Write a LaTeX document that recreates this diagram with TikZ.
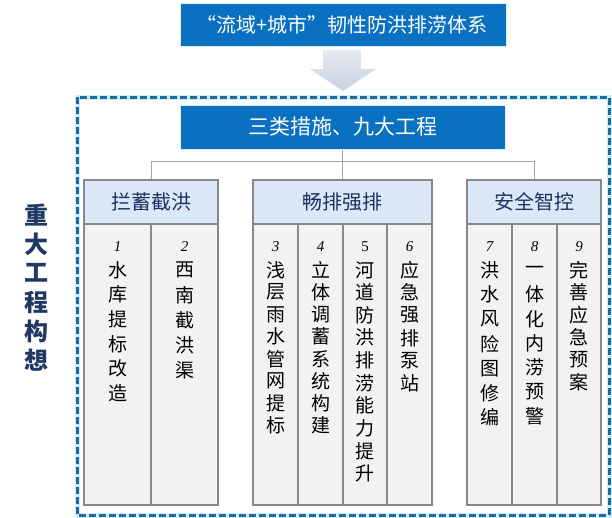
\documentclass[tikz,border=0pt]{standalone}
\usepackage{fontspec}
\setmainfont{Liberation Serif}
\newfontfamily\cjk{Noto Sans CJK SC}
\definecolor{topblue}{RGB}{10,112,192}
\definecolor{hdrblue}{RGB}{218,232,247}
\definecolor{colgray}{RGB}{242,242,242}
\definecolor{boxgray}{RGB}{136,136,136}
\definecolor{hdrtext}{RGB}{31,48,96}
\definecolor{sidenavy}{RGB}{32,56,100}
\definecolor{dashblue}{RGB}{31,106,158}
\definecolor{linkgray}{RGB}{166,166,166}
\definecolor{arrowtop}{RGB}{230,234,242}
\definecolor{arrowbot}{RGB}{200,209,225}
\tikzset{
  bluebox/.style={rectangle, fill=topblue, draw=cyan!15, line width=1pt, text=white,
    font=\cjk\fontsize{20}{24}\selectfont, inner sep=0pt},
  hdr/.style={rectangle, fill=hdrblue, draw=boxgray, line width=1.5pt, text=hdrtext,
    font=\cjk\fontsize{20}{24}\selectfont, minimum height=44, inner sep=0pt},
  colbox/.style={rectangle, fill=colgray, draw=boxgray, line width=1.5pt,
    minimum height=281, inner sep=0pt},
  ch/.style={font=\cjk\fontsize{19}{22}\selectfont, inner sep=0pt, text=black},
  num/.style={font=\fontsize{15}{18}\selectfont\itshape, inner sep=0pt, text=black},
  side/.style={font=\cjk\bfseries\fontsize{24}{28}\selectfont, inner sep=0pt, text=sidenavy},
  link/.style={draw=linkgray, line width=1pt},
  frame/.style={draw=dashblue, line width=3pt, dash pattern=on 7pt off 3pt},
}
\newcommand\colitems[5]{%
  \node[num] (#1n) at (#2,247) {#4};
  \foreach \c [count=\i] in {#5} {\node[ch] (#1-\i) at (#2,{270+(\i-1)*#3}) {\c};}
}
\begin{document}
\begin{tikzpicture}[x=1pt,y=-1pt]
\useasboundingbox (0,0) rectangle (612,517);
% top box
\node[bluebox, minimum width=326, minimum height=43] (top) at (343,24.5)
  {\makebox[18pt][r]{“}流域+城市\makebox[20pt][l]{”}韧性防洪排涝体系};
% arrow
\shade[top color=arrowtop, bottom color=arrowbot]
  (323,50) -- (361,50) -- (361,69) -- (376,69) -- (343,91) -- (310,69) -- (323,69) -- cycle;
% dashed frame
\draw[draw=cyan!20, line width=5pt] (77,97) rectangle (609,515);
\draw[frame] (77,97) rectangle (609,515);
% second box
\node[bluebox, minimum width=325, minimum height=44, font=\cjk\fontsize{21}{24}\selectfont] (mid) at (342.5,127) {三类措施、九大工程};
% headers
\node[hdr, minimum width=134] (h1) at (151,202) {拦蓄截洪};
\node[hdr, minimum width=179] (h2) at (342.5,202) {畅排强排};
\node[hdr, minimum width=134] (h3) at (534,202) {安全智控};
% connectors
\draw[link] (mid.south) -- (h2.north);
\draw[link] (h1.north) -- ++(0,-18) -| (h3.north);
% columns
\node[colbox, minimum width=67] (c1) at (117.5,364.5) {};
\node[colbox, minimum width=67] (c2) at (184.5,364.5) {};
\node[colbox, minimum width=45] (c3) at (275.5,364.5) {};
\node[colbox, minimum width=45] (c4) at (320.5,364.5) {};
\node[colbox, minimum width=44] (c5) at (365,364.5) {};
\node[colbox, minimum width=45] (c6) at (409.5,364.5) {};
\node[colbox, minimum width=45] (c7) at (489.5,364.5) {};
\node[colbox, minimum width=45] (c8) at (534.5,364.5) {};
\node[colbox, minimum width=44] (c9) at (579,364.5) {};
% column texts
\colitems{t1}{117.5}{24.6}{1}{水,库,提,标,改,造}
\colitems{t2}{184.5}{25}{2}{西,南,截,洪,渠}
\colitems{t3}{275.5}{22.2}{3}{浅,层,雨,水,管,网,提,标}
\colitems{t4}{320.5}{22.2}{4}{立,体,调,蓄,系,统,构,建}
\colitems{t5}{365}{22.6}{\upshape 5}{河,道,防,洪,排,涝,能,力,提,升}
\colitems{t6}{409.5}{22.6}{6}{应,急,强,排,泵,站}
\colitems{t7}{489.5}{24.6}{7}{洪,水,风,险,图,修,编}
\colitems{t8}{534.5}{24.4}{8}{一,体,化,内,涝,预,警}
\colitems{t9}{579}{22.4}{9}{完,善,应,急,预,案}
% side title
\foreach \c [count=\i] in {重,大,工,程,构,想} {
  \node[side] (s\i) at (36,{215+(\i-1)*29}) {\c};
}
\end{tikzpicture}
\end{document}
